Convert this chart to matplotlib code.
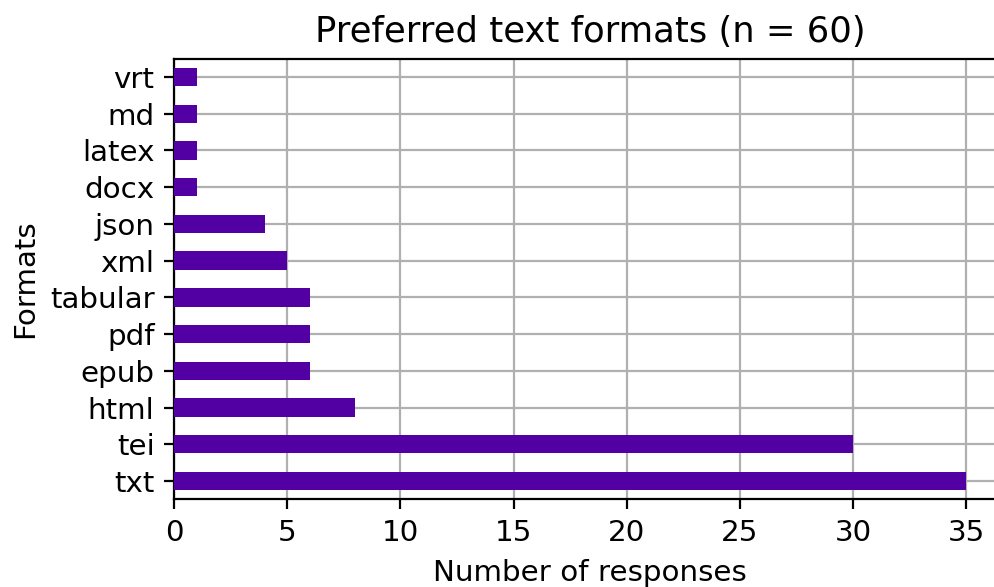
import matplotlib
matplotlib.use('Agg')
import matplotlib.pyplot as plt

formats = ['txt', 'tei', 'html', 'epub', 'pdf', 'tabular', 'xml', 'json',
           'docx', 'latex', 'md', 'vrt']
counts = [35, 30, 8, 6, 6, 6, 5, 4, 1, 1, 1, 1]

plt.rcParams['font.size'] = 10.6

W, H = 995, 587
dpi = 200
fig = plt.figure(figsize=(W/dpi, H/dpi), dpi=dpi)
# axes runs a bit past the right edge of the figure
ax = fig.add_axes([174/W, 1 - 499.4/H, (1006 - 174)/W, (499.4 - 58.6)/H])

pos = range(len(formats))
ax.barh(pos, counts, height=0.5, color='#5200a3', zorder=3)
ax.set_yticks(list(pos))
ax.set_yticklabels(formats)
ax.set_ylim(-0.5, len(formats) - 0.5)
ax.set_xlim(0, max(counts) * 1.05)
ax.set_xticks(range(0, 40, 5))
ax.grid(True, color='#b0b0b0', linewidth=0.8, zorder=0)
ax.set_axisbelow(True)

ax.set_title('Preferred text formats (n = 60)')
ax.set_xlabel('Number of responses', labelpad=4.5)
ax.set_ylabel('Formats')

fig.savefig('out.png', dpi=dpi)
